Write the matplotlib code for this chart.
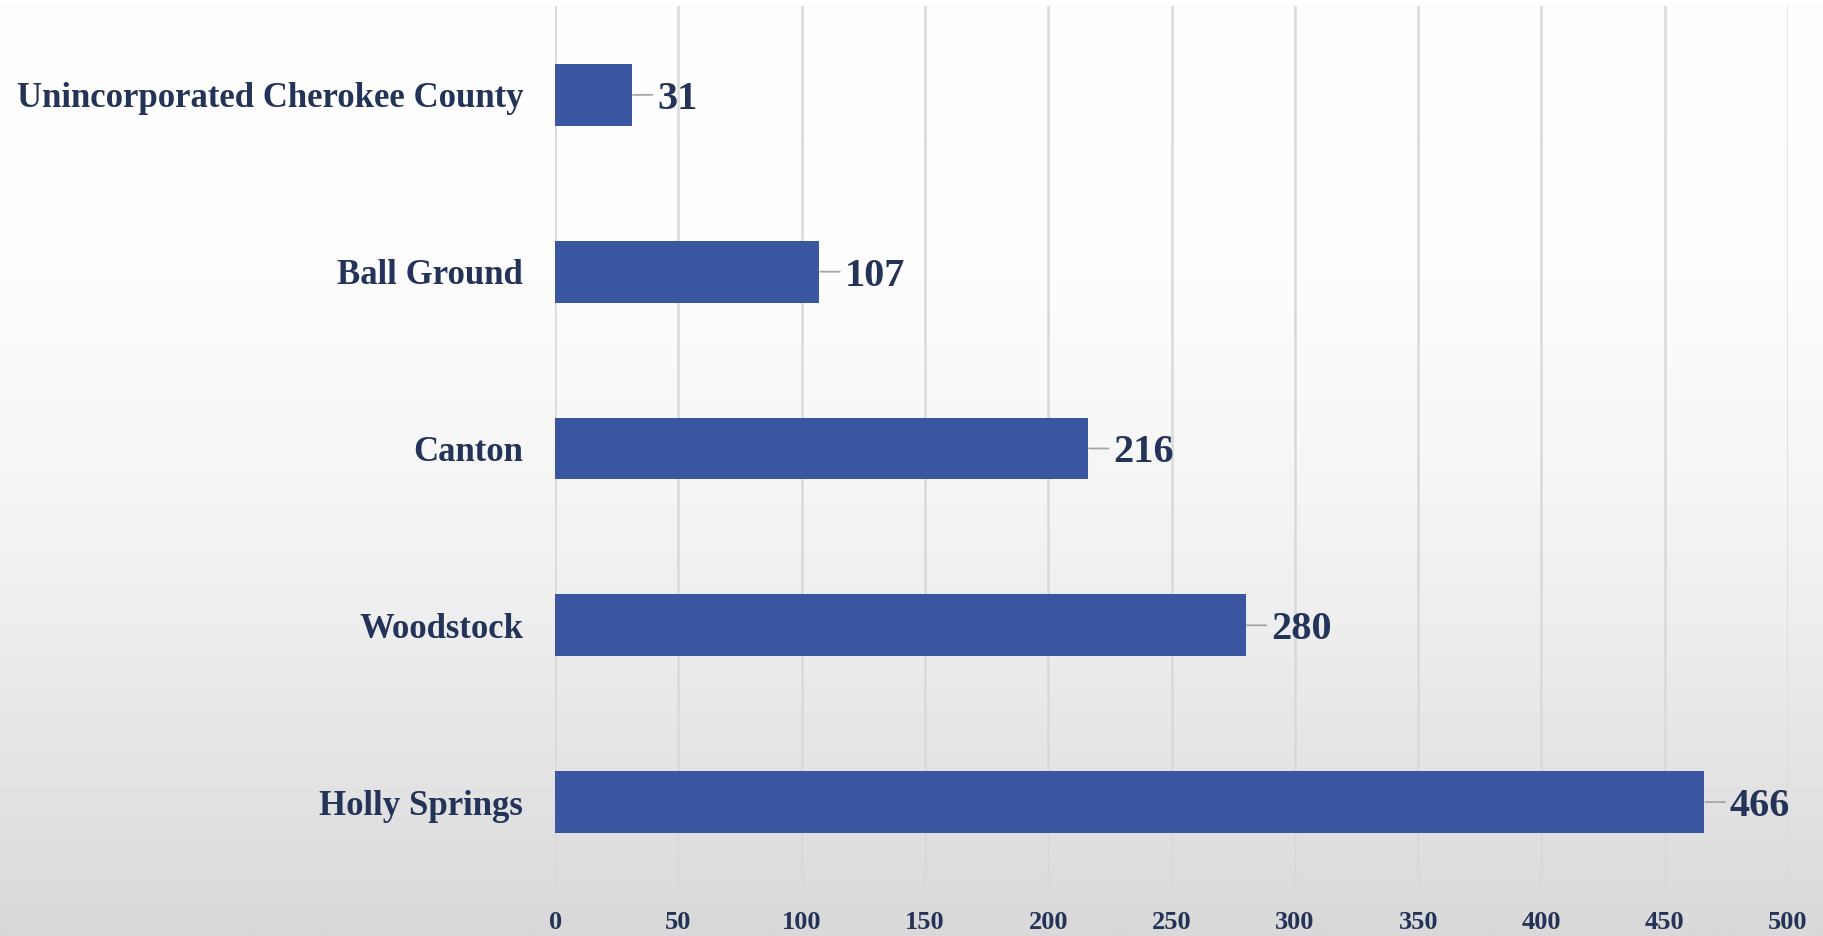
import numpy as np
import matplotlib.pyplot as plt
from matplotlib.colors import LinearSegmentedColormap

# Data
categories = ["Holly Springs", "Woodstock", "Canton", "Ball Ground",
              "Unincorporated Cherokee County"]
values = [466, 280, 216, 107, 31]
x_ticks = [0, 50, 100, 150, 200, 250, 300, 350, 400, 450, 500]

NAVY = "#243358"
BAR = "#3A56A0"
GRID = "#d9d9d9"

plt.rcParams["font.family"] = ["Liberation Serif", "DejaVu Serif"]

fig = plt.figure(figsize=(18.23, 9.36), dpi=100)

# Vertical background gradient (white at top, light grey at bottom)
bg_ax = fig.add_axes([0, 0, 1, 1], zorder=-10)
bg_cmap = LinearSegmentedColormap.from_list(
    "bg",
    [(0.0, "#ffffff"), (0.30, "#fdfdfd"), (0.46, "#f8f8f8"),
     (0.67, "#eeeeee"), (1.0, "#d9d9d9")],
)
grad = np.linspace(0, 1, 512).reshape(-1, 1)
bg_ax.imshow(grad, aspect="auto", cmap=bg_cmap, extent=[0, 1, 1, 0])
bg_ax.set_axis_off()

ax = fig.add_axes([0.3045, 0.0486, 0.9808 - 0.3045, 0.9931 - 0.0486])
ax.set_facecolor("none")

y = np.arange(len(categories))
ax.barh(y, values, height=0.35, color=BAR, zorder=3)

ax.set_xlim(0, 500)
ax.set_ylim(-0.5, len(categories) - 0.5)
ax.set_xticks(x_ticks)
ax.set_xticklabels([str(t) for t in x_ticks], fontsize=19, fontweight="bold",
                   color=NAVY)
ax.set_yticks(y)
ax.set_yticklabels(categories, fontsize=25, fontweight="bold", color=NAVY)
ax.tick_params(axis="y", length=0, pad=23)
ax.tick_params(axis="x", length=0, pad=15)

ax.grid(axis="x", color=GRID, linewidth=1.8, zorder=0)
for s in ax.spines.values():
    s.set_visible(False)

# Value labels with short leader lines
for yi, v in zip(y, values):
    ax.annotate(
        "", xy=(v, yi), xytext=(15, 0), textcoords="offset points",
        arrowprops=dict(arrowstyle="-", color="#a6a6a6", lw=1.3,
                        shrinkA=0, shrinkB=1),
        zorder=4,
    )
    ax.annotate(
        str(v), xy=(v, yi), xytext=(18.5, 0), textcoords="offset points",
        ha="left", va="center_baseline", fontsize=29, fontweight="bold",
        color=NAVY, zorder=4,
    )

fig.savefig("out.png", dpi=100)
